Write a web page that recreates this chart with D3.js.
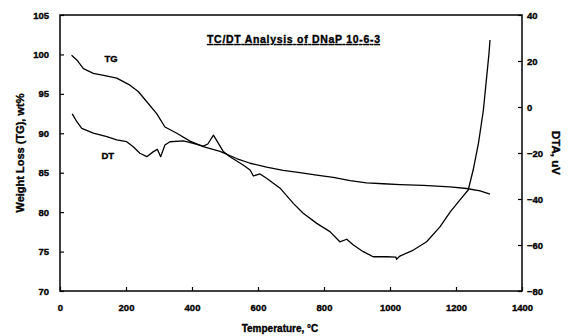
<!DOCTYPE html>
<html>
<head>
<meta charset="utf-8">
<script src="https://cdn.jsdelivr.net/npm/d3@7"></script>
<style>
  html, body { margin: 0; padding: 0; background: #fff; }
  svg { display: block; }
  text { font-family: "Liberation Sans", Arial, sans-serif; font-weight: bold; fill: #000; stroke: #000; stroke-width: 0.35px; }
</style>
</head>
<body>
<svg id="chart" width="568" height="336"></svg>
<script>
// ---- data ----
const tgTemp = [35, 51, 71, 101, 136, 172, 212, 237, 263, 293, 318, 354, 394, 434, 485, 535, 576, 626, 676, 727, 778, 828, 879, 929, 980, 1030, 1101, 1182, 1232, 1273, 1303];
const tgWeight = [99.9, 99.3, 98.2, 97.6, 97.3, 97.0, 96.1, 95.3, 94.0, 92.5, 90.8, 90.0, 89.0, 88.3, 87.7, 86.8, 86.2, 85.7, 85.3, 85.0, 84.7, 84.4, 84.0, 83.7, 83.6, 83.5, 83.4, 83.2, 83.0, 82.7, 82.3];

const dtTemp = [37, 51, 66, 101, 142, 172, 202, 222, 242, 263, 283, 295, 305, 318, 333, 374, 404, 434, 448, 465, 480, 495, 515, 555, 576, 586, 606, 626, 667, 707, 737, 778, 818, 848, 869, 889, 919, 949, 990, 1018, 1020, 1030, 1071, 1111, 1152, 1182, 1212, 1237, 1252, 1268, 1283, 1293, 1300, 1303];
const dtValue = [-3.0, -6.4, -9.3, -11.4, -12.9, -14.3, -15.1, -17.3, -20.1, -21.6, -19.4, -18.4, -21.6, -16.5, -15.1, -14.7, -15.8, -17.0, -16.1, -12.2, -15.8, -19.4, -21.6, -25.2, -27.4, -30.0, -29.1, -31.0, -35.3, -41.9, -46.2, -50.6, -54.2, -58.6, -57.5, -60.0, -62.9, -65.1, -65.1, -65.3, -66.2, -64.8, -62.2, -58.6, -52.0, -45.7, -40.4, -36.1, -27.4, -15.8, -1.3, 13.2, 23.3, 29.1];

const xTicks = [0, 200, 400, 600, 800, 1000, 1200, 1400];
const leftTicks = [70, 75, 80, 85, 90, 95, 100, 105];
const rightTicks = [-80, -60, -40, -20, 0, 20, 40];

const titleMain = "TC/DT Analysis of DNaP 10-6-3";
const xTitle = "Temperature, \u00B0C";
const yLeftTitle = "Weight Loss (TG), wt%";
const yRightTitle = "DTA, uV";

// ---- layout ----
const L = 60, R = 522, T = 15, B = 291;
const svg = d3.select("#chart");

const x = d3.scaleLinear().domain([0, 1400]).range([L, R]);
const yL = d3.scaleLinear().domain([70, 105]).range([B, T]);
const yR = d3.scaleLinear().domain([-80, 40]).range([B, T]);
const fmt = d3.format("d");

// frame
svg.append("rect").attr("x", L).attr("y", T).attr("width", R - L).attr("height", B - T)
  .attr("fill", "none").attr("stroke", "#000").attr("stroke-width", 1.5);

// axes
const axB = svg.append("g").attr("transform", `translate(0,${B})`)
  .call(d3.axisBottom(x).tickValues(xTicks).tickFormat(fmt).tickSizeInner(-4).tickSizeOuter(0).tickPadding(14));
const axL = svg.append("g").attr("transform", `translate(${L},0)`)
  .call(d3.axisLeft(yL).tickValues(leftTicks).tickFormat(fmt).tickSizeInner(-4).tickSizeOuter(0).tickPadding(11));
const axR = svg.append("g").attr("transform", `translate(${R},0)`)
  .call(d3.axisRight(yR).tickValues(rightTicks).tickFormat(fmt).tickSizeInner(-4).tickSizeOuter(0).tickPadding(5));

[axB, axL, axR].forEach(g => {
  g.attr("font-family", null).attr("font-size", null);
  g.select(".domain").remove();
  g.selectAll("line").attr("stroke", "#000").attr("stroke-width", 1.2);
  g.selectAll("text").attr("font-size", 9.5).attr("fill", "#000");
});
axB.selectAll("text").attr("dy", "0.71em").attr("y", 13);

// curves
const lineTG = d3.line().x((d, i) => x(tgTemp[i])).y(d => yL(d));
const lineDT = d3.line().x((d, i) => x(dtTemp[i])).y(d => yR(d));

svg.append("path").datum(tgWeight).attr("d", lineTG)
  .attr("fill", "none").attr("stroke", "#000").attr("stroke-width", 1.3).attr("stroke-linejoin", "round");
svg.append("path").datum(dtValue).attr("d", lineDT)
  .attr("fill", "none").attr("stroke", "#000").attr("stroke-width", 1.3).attr("stroke-linejoin", "round");

// curve labels
svg.append("text").attr("x", x(155)).attr("y", yL(99.0)).attr("text-anchor", "middle")
  .attr("font-size", 9.5).text("TG");
svg.append("text").attr("x", x(145)).attr("y", yR(-22.5)).attr("text-anchor", "middle")
  .attr("font-size", 9.5).text("DT");

// title
svg.append("text").attr("x", 207).attr("y", 43).attr("font-size", 10.5)
  .attr("textLength", 173).attr("lengthAdjust", "spacing")
  .attr("text-decoration", "underline").text(titleMain);

// axis titles
svg.append("text").attr("x", 280).attr("y", 332).attr("text-anchor", "middle")
  .attr("font-size", 10).text(xTitle);
svg.append("text").attr("transform", `translate(24,${(T + B) / 2}) rotate(-90)`)
  .attr("text-anchor", "middle").attr("font-size", 11).text(yLeftTitle);
svg.append("text").attr("transform", `translate(552,${(T + B) / 2}) rotate(90)`)
  .attr("text-anchor", "middle").attr("font-size", 11.5).text(yRightTitle);
</script>
</body>
</html>
